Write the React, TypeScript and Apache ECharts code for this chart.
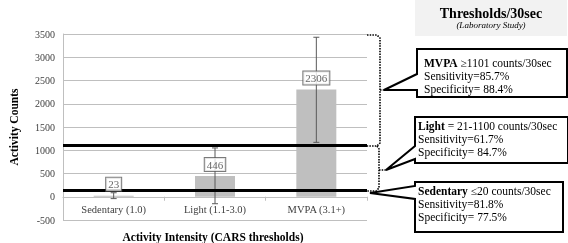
import React, { useEffect, useRef } from "react";
import * as echarts from "echarts";

const categories = ["Sedentary (1.0)", "Light (1.1-3.0)", "MVPA (3.1+)"];
const means = [23, 446, 2306];
const errLow = [-40, -150, 1170];
const errHigh = [86, 1050, 3430];
const thresholds = [1100, 130];

const FONT = "'Liberation Serif', 'DejaVu Serif', serif";

function callout(x0: number, y0: number, x1: number, y1: number, aTop: number, aBot: number, tip: [number, number]) {
  return {
    type: "polygon",
    shape: {
      points: [
        [x0, y0], [x1, y0], [x1, y1], [x0, y1], [x0, aBot], tip, [x0, aTop],
      ],
    },
    style: { fill: "#fff", stroke: "#000", lineWidth: 2 },
    z: 10,
  };
}

function boxText(x: number, y: number, bold: string, rest: string, l2: string, l3: string) {
  return {
    type: "text",
    x,
    y,
    z: 11,
    style: {
      text: `{b|${bold}}{n|${rest}}\n{n|${l2}}\n{n|${l3}}`,
      fill: "#000",
      font: `11.5px ${FONT}`,
      lineHeight: 13,
      verticalAlign: "top",
      rich: {
        b: { fontFamily: FONT, fontSize: 11.5, fontWeight: "bold", fill: "#000", lineHeight: 13 },
        n: { fontFamily: FONT, fontSize: 11.5, fill: "#000", lineHeight: 13 },
      },
    },
  };
}

export default function App() {
  const ref = useRef<HTMLDivElement>(null);
  useEffect(() => {
    document.body.style.margin = "0";
    const chart = echarts.init(ref.current!, null, { renderer: "svg" });
    const dotted = { stroke: "#000", lineWidth: 1.6, lineDash: [1.5, 1.2], fill: null };
    const gridH = 243 - 34 - 23;
    const zeroOffset = -gridH * (0 - -500) / (3500 - -500);
    chart.setOption({
      animation: false,
      textStyle: { fontFamily: FONT },
      grid: { left: 58, right: 201, top: 34, bottom: 23 },
      xAxis: {
        type: "category",
        data: categories,
        offset: zeroOffset,
        axisLine: { onZero: false, lineStyle: { color: "#bfbfbf" } },
        axisTick: { show: true, length: 4, lineStyle: { color: "#bfbfbf" } },
        axisLabel: { color: "#404040", fontSize: 10.5, margin: 7, fontFamily: FONT },
      },
      yAxis: {
        type: "value",
        min: -500,
        max: 3500,
        interval: 500,
        name: "Activity Counts",
        nameLocation: "middle",
        nameGap: 43,
        nameTextStyle: { fontWeight: "bold", fontSize: 11.5, color: "#000", fontFamily: FONT },
        axisLine: { show: true, onZero: false, lineStyle: { color: "#bfbfbf" } },
        axisTick: { show: false },
        splitLine: { lineStyle: { color: "#bfbfbf" } },
        axisLabel: { color: "#404040", fontSize: 10, margin: 8, fontFamily: FONT, formatter: (v: number) => String(v) },
      },
      series: [
        {
          type: "bar",
          data: means,
          barWidth: 40,
          itemStyle: { color: "#bfbfbf" },
          z: 2,
          markLine: {
            silent: true,
            symbol: "none",
            label: { show: false },
            lineStyle: { color: "#000", width: 3, type: "solid" },
            data: thresholds.map((t) => ({ yAxis: t })),
          },
        },
        {
          type: "custom",
          z: 3,
          encode: { x: 0, y: [1, 2] },
          data: categories.map((_, i) => [i, errLow[i], errHigh[i]]),
          renderItem: (_params: any, api: any) => {
            const xi = api.value(0);
            const lo = api.coord([xi, api.value(1)]);
            const hi = api.coord([xi, api.value(2)]);
            const hw = 3;
            const st = { stroke: "#595959", lineWidth: 1 };
            return {
              type: "group",
              children: [
                { type: "line", shape: { x1: lo[0], y1: lo[1], x2: hi[0], y2: hi[1] }, style: st },
                { type: "line", shape: { x1: lo[0] - hw, y1: lo[1], x2: lo[0] + hw, y2: lo[1] }, style: st },
                { type: "line", shape: { x1: hi[0] - hw, y1: hi[1], x2: hi[0] + hw, y2: hi[1] }, style: st },
              ],
            };
          },
        },
        {
          type: "scatter",
          data: means,
          symbolSize: 0,
          z: 5,
          label: {
            show: true,
            position: "top",
            distance: 5,
            formatter: "{c}",
            color: "#404040",
            fontSize: 11,
            lineHeight: 11,
            fontFamily: FONT,
            backgroundColor: "#fff",
            borderColor: "#595959",
            borderWidth: 1,
            padding: [1, 2, 1, 2],
          },
        },
      ],
      graphic: [
        { type: "rect", shape: { x: 415, y: 0, width: 152, height: 36 }, style: { fill: "#f2f2f2" } },
        {
          type: "text", x: 491, y: 13,
          style: { text: "Thresholds/30sec", font: `bold 14px ${FONT}`, fill: "#000", align: "center", verticalAlign: "middle" },
        },
        {
          type: "text", x: 491, y: 25,
          style: { text: "(Laboratory Study)", font: `italic 9px ${FONT}`, fill: "#000", align: "center", verticalAlign: "middle" },
        },
        {
          type: "text", x: 213, y: 237,
          style: { text: "Activity Intensity (CARS thresholds)", font: `bold 11.5px ${FONT}`, fill: "#000", align: "center", verticalAlign: "middle" },
        },
        // braces
        { type: "polyline", shape: { points: [[367, 35], [377, 35], [380, 38], [380, 143], [377, 146], [367, 146]] }, style: dotted, z: 9 },
        { type: "polyline", shape: { points: [[380, 90], [386, 90]] }, style: dotted, z: 9 },
        { type: "polyline", shape: { points: [[377, 146], [379, 149], [379, 188], [376, 191], [367, 191]] }, style: dotted, z: 9 },
        { type: "polyline", shape: { points: [[379, 170], [386, 170]] }, style: dotted, z: 9 },
        // callouts
        callout(417, 49, 567, 97, 74, 90, [384, 90]),
        boxText(424, 56, "MVPA", " ≥1101 counts/30sec", "Sensitivity=85.7%", "Specificity= 88.4%"),
        callout(415, 117, 568, 163, 146, 159, [386, 170]),
        boxText(418, 119, "Light", " = 21-1100 counts/30sec", "Sensitivity=61.7%", "Specificity= 84.7%"),
        callout(415, 182, 563, 232, 186, 199, [370, 193]),
        boxText(418, 184, "Sedentary", " ≤20 counts/30sec", "Sensitivity=81.8%", "Specificity= 77.5%"),
      ],
    });
    return () => chart.dispose();
  }, []);
  return <div ref={ref} style={{ position: "fixed", left: 0, top: 0, width: 568, height: 243 }} />;
}
